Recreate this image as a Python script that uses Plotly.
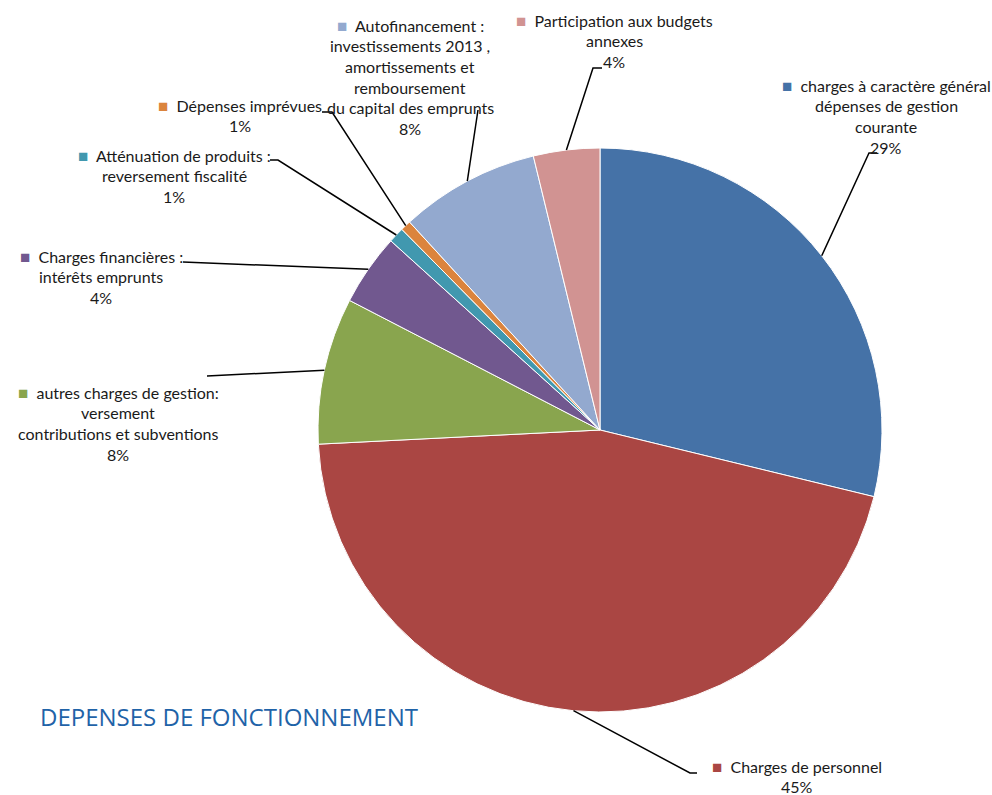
import math
import plotly.graph_objects as go

W, H = 992, 795

categories = [
    "charges à caractère général dépenses de gestion courante",
    "Charges de personnel",
    "autres charges de gestion: versement contributions et subventions",
    "Charges financières : intérêts emprunts",
    "Atténuation de produits : reversement fiscalité",
    "Dépenses imprévues",
    "Autofinancement : investissements 2013 , amortissements et remboursement du capital des emprunts",
    "Participation aux budgets annexes",
]
values = [28.8, 45.4, 8.4, 4.1, 0.9, 0.6, 8.0, 3.8]
label_lines = [
    ["charges à caractère général", "dépenses de gestion", "courante"],
    ["Charges de personnel"],
    ["autres charges de gestion:", "versement", "contributions et subventions"],
    ["Charges financières :", "intérêts emprunts"],
    ["Atténuation de produits :", "reversement fiscalité"],
    ["Dépenses imprévues"],
    ["Autofinancement :", "investissements 2013 ,", "amortissements et", "remboursement", "du capital des emprunts"],
    ["Participation aux budgets", "annexes"],
]
colors = ["#4572A7", "#AA4643", "#89A54E", "#71588F", "#4198AF", "#DB843D", "#93A9CF", "#D19392"]
title = "DEPENSES DE FONCTIONNEMENT"

# layout geometry (screen pixels)
cx, cy, R = 600, 430, 282
label_pos = [(886, 85), (797, 766), (118, 392), (101, 256), (174, 155), (240, 105), (410, 25), (614, 20)]
leader_pts = [
    [(869, 153), (877, 153)],
    [(690, 773), (697, 773)],
    [(207, 376)],
    [(183, 262)],
    [(278, 160), (270, 160)],
    [(332, 112), (322, 112)],
    [(478, 110)],
    [(593, 68), (602, 68)],
]
LS = 20.7
FONT = "Lato"
FS = 16

fig = go.Figure()
fig.add_trace(go.Pie(
    labels=categories, values=values, sort=False, direction="clockwise", rotation=0,
    marker=dict(colors=colors, line=dict(color="white", width=1)),
    textinfo="none", hoverinfo="label+percent", showlegend=False,
    domain=dict(x=[(cx - R) / W, (cx + R) / W],
                y=[1 - (cy + R) / H, 1 - (cy - R) / H]),
))

total = sum(values)
cum = 0
annotations = []
shapes = []
for i, v in enumerate(values):
    mid = (cum + v / 2) / total * 2 * math.pi
    cum += v
    ex, ey = cx + R * math.sin(mid), cy - R * math.cos(mid)
    pts = [(ex, ey)] + leader_pts[i]
    path = "M " + " L ".join(f"{x:.1f},{y:.1f}" for x, y in pts)
    shapes.append(dict(type="path", path=path, xref="x", yref="y",
                       line=dict(color="black", width=1.5)))
    lx, ly = label_pos[i]
    lines = label_lines[i] + [f"{round(v / total * 100):.0f}%"]
    for j, t in enumerate(lines):
        if j == 0:
            t = f"<span style='color:{colors[i]};font-size:17px'>■</span>  " + t
        annotations.append(dict(x=lx, y=ly + j * LS, xref="x", yref="y", text=t,
                                showarrow=False, xanchor="center", yanchor="middle",
                                font=dict(family=FONT, size=FS, color="#1a1a1a")))

annotations.append(dict(x=38, y=716, xref="x", yref="y", text=title, showarrow=False,
                        xanchor="left", yanchor="middle",
                        font=dict(family="Open Sans", size=24, color="#1F63A8")))

fig.update_layout(
    width=W, height=H, margin=dict(l=0, r=0, t=0, b=0),
    paper_bgcolor="white", plot_bgcolor="rgba(0,0,0,0)",
    xaxis=dict(range=[0, W], visible=False, domain=[0, 1]),
    yaxis=dict(range=[H, 0], visible=False, domain=[0, 1]),
    annotations=annotations, shapes=shapes,
)
fig.write_html("out.html", config={"displayModeBar": False},
               post_script="document.body.style.margin='0';document.body.style.overflow='hidden';")
